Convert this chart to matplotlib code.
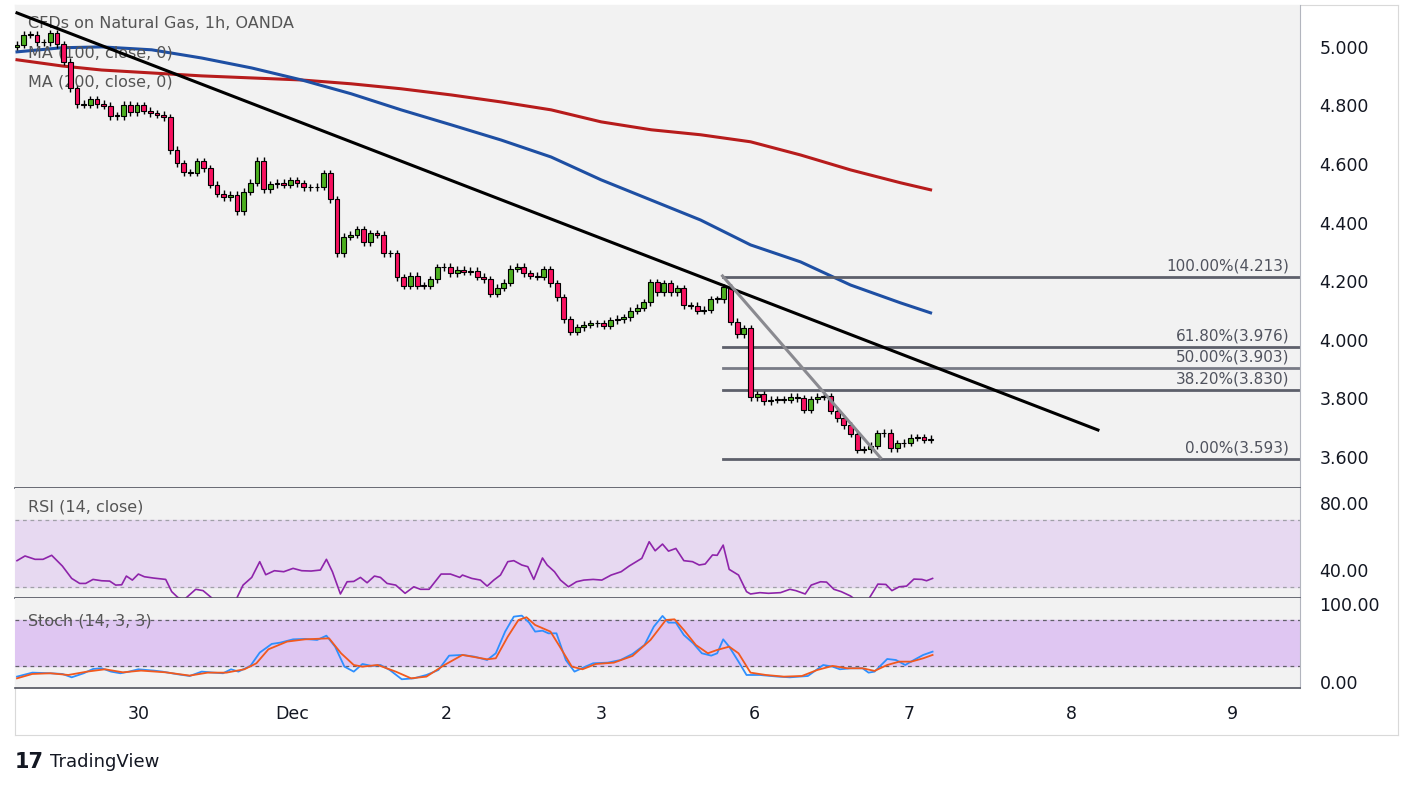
import matplotlib.pyplot as plt
import numpy as np

# hourly closes (one per candle)
closes = [5.007, 5.041, 5.041, 5.015, 5.015, 5.047, 5.009, 4.950, 4.859, 4.805, 4.802, 4.821,
          4.805, 4.799, 4.764, 4.764, 4.802, 4.777, 4.801, 4.782, 4.774, 4.768, 4.760, 4.648,
          4.603, 4.572, 4.571, 4.609, 4.586, 4.529, 4.498, 4.487, 4.495, 4.438, 4.506, 4.537,
          4.612, 4.514, 4.531, 4.537, 4.529, 4.544, 4.535, 4.521, 4.521, 4.523, 4.569, 4.480,
          4.296, 4.352, 4.358, 4.378, 4.333, 4.364, 4.358, 4.296, 4.296, 4.214, 4.184, 4.218,
          4.184, 4.184, 4.207, 4.247, 4.250, 4.227, 4.239,
          4.233, 4.236, 4.216, 4.207, 4.157, 4.178, 4.195, 4.243, 4.250, 4.227, 4.218, 4.216,
          4.241, 4.193, 4.145, 4.070, 4.027, 4.043, 4.051, 4.057, 4.057, 4.048, 4.066, 4.071,
          4.077, 4.099, 4.110, 4.128, 4.197, 4.162, 4.193, 4.162, 4.176, 4.118, 4.116, 4.099,
          4.102, 4.139, 4.139, 4.180, 4.062, 4.019, 4.040, 3.804, 3.814, 3.791, 3.795, 3.797,
          3.795, 3.806, 3.801, 3.761, 3.797, 3.806, 3.808, 3.758, 3.732, 3.708, 3.679, 3.624,
          3.626, 3.639, 3.681, 3.683, 3.630, 3.647, 3.649, 3.666, 3.667, 3.658, 3.662]
first_open = 5.000
wick = 0.012

ma_x = [0, 6.7, 12.7, 20.2, 27.7, 35.2, 42.7, 50.1, 57.6, 65.1, 72.6, 80.1, 87.6, 95.1,
        102.5, 110.0, 117.5, 125.0, 132.5, 137.0]
ma100_y = [4.983, 4.997, 5.000, 4.990, 4.962, 4.928, 4.887, 4.840, 4.785, 4.734, 4.682, 4.624,
           4.546, 4.477, 4.409, 4.324, 4.266, 4.187, 4.126, 4.092]
ma200_y = [4.956, 4.935, 4.921, 4.911, 4.901, 4.894, 4.887, 4.874, 4.857, 4.836, 4.812, 4.785,
           4.744, 4.717, 4.700, 4.676, 4.631, 4.580, 4.536, 4.512]

trend_x = [0, 162.1]
trend_y = [5.116, 3.692]
grey_x = [105.8, 129.5]
grey_y = [4.218, 3.597]

fib_start = 105.8
fib_levels = [4.213, 3.976, 3.903, 3.830, 3.593]
fib_labels = ["100.00%(4.213)", "61.80%(3.976)", "50.00%(3.903)", "38.20%(3.830)", "0.00%(3.593)"]
fib_colors = ["#5d606b", "#5d606b", "#787b86", "#5d606b", "#5d606b"]

rsi_x = [0, 1.2, 2.7, 3.9, 5.2, 6.8, 8.2, 9.4, 10.3, 11.4, 12.7, 13.9, 14.8, 15.7, 16.4, 17.3,
         18.2, 19.1, 20.5, 22.3, 23.2, 24.1, 25.0, 26.8, 27.9, 29.1, 30.0, 32.7, 33.9, 35.2,
         36.4, 37.3, 38.6, 40.0, 41.4, 42.7, 44.1, 45.5, 46.4, 47.3, 48.5, 49.5, 50.5, 51.5,
         52.5, 53.6, 54.5, 55.5, 56.8, 58.2, 59.5, 60.5, 61.8, 63.6, 65.0, 66.4, 66.8, 68.2,
         69.5, 70.5, 71.5, 72.5, 73.6, 74.5, 75.7, 76.6, 77.5, 78.8, 79.5, 80.6, 81.5, 82.7,
         83.9, 85.0, 86.4, 87.7, 89.1, 90.6, 91.8, 93.7, 94.8, 95.7, 96.8, 97.7, 98.8, 100.0,
         101.3, 102.3, 103.2, 104.3, 105.0, 105.9, 106.8, 108.2, 109.4, 110.0, 111.4, 112.7,
         114.5, 115.9, 116.8, 118.2, 119.1, 120.5, 121.4, 122.5, 123.6, 125.0, 125.9, 127.7,
         129.1, 130.3, 131.2, 132.3, 133.4, 134.5, 135.7, 136.4, 137.3]
rsi_v = [45.6, 48.4, 46.4, 46.4, 48.8, 42.4, 35.0, 32.0, 32.0, 34.4, 33.6, 33.4, 31.0, 31.2, 36.4, 34.0,
         37.6, 36.0, 35.2, 34.4, 27.1, 23.7, 22.1, 28.5, 27.7, 23.7, 20.1, 21.1, 31.0, 35.6,
         45.0, 37.2, 39.6, 39.0, 41.0, 39.6, 39.4, 40.0, 46.4, 39.0, 25.7, 33.0, 33.2, 35.6,
         32.4, 36.4, 35.6, 32.0, 31.0, 26.1, 30.0, 28.5, 28.5, 37.6, 37.6, 35.6, 37.0, 35.0,
         34.0, 30.4, 34.0, 37.0, 45.0, 45.6, 43.0, 42.0, 34.4, 47.2, 43.0, 39.0, 34.0, 30.0,
         33.0, 34.0, 34.4, 34.0, 37.0, 39.0, 42.4, 47.0, 56.9, 51.5, 55.5, 51.3, 52.9, 45.6,
         45.0, 43.0, 43.6, 49.0, 48.8, 54.9, 40.4, 37.0, 27.1, 25.7, 26.5, 26.1,
         26.5, 28.5, 27.7, 25.7, 31.0, 33.0, 32.8, 28.5, 27.1, 24.5, 21.7, 22.5,
         31.6, 31.4, 27.7, 30.0, 30.4, 34.6, 34.4, 33.6, 35.0]

k_x = [0, 2.3, 5.0, 6.8, 8.2, 10.0, 11.4, 12.7, 14.1, 15.5, 16.8, 18.2, 20.5, 21.8, 24.1, 25.9,
       27.7, 29.5, 30.9, 32.1, 33.2, 35.0, 36.4, 38.2, 39.5, 41.4, 43.2, 45.0, 46.4, 47.7, 49.1,
       50.5, 51.8, 53.2, 54.5, 55.9, 57.7, 59.5, 61.4, 63.2, 64.8, 66.8, 68.6, 70.5, 71.8, 73.2,
       74.5, 75.7, 76.8, 77.7, 78.8, 79.7, 80.9, 82.3, 83.6, 85.0, 86.4, 88.6, 90.5, 92.3, 94.1,
       95.5, 96.8, 97.7, 98.8, 100.0, 101.4, 102.7, 104.1, 105.0, 105.9, 106.8, 108.2, 109.4,
       111.4, 114.1, 115.9, 118.6, 120.9, 122.3, 123.4, 125.0, 126.8, 127.7, 128.6, 130.5,
       131.8, 133.2, 134.5, 135.9, 137.3]
k_v = [6.9, 12.0, 11.2, 10.3, 6.0, 11.2, 16.7, 17.6, 13.3, 11.2, 13.3, 16.3, 14.6, 13.3, 9.9, 7.7,
       13.3, 12.0, 11.2, 16.3, 13.3, 20.6, 37.7, 48.8, 50.5, 54.7, 55.2, 53.9, 59.4, 45.3, 19.7,
       13.3, 23.1, 20.6, 21.8, 15.4, 3.5, 4.7, 9.0, 15.4, 33.8, 34.7, 32.5, 28.2, 36.8, 64.6,
       83.8, 85.1, 76.1, 64.6, 65.8, 62.4, 62.4, 28.2, 13.3, 18.8, 24.0, 24.8, 28.2, 35.9, 47.5,
       71.0, 84.7, 76.1, 76.1, 60.3, 49.6, 36.8, 33.8, 36.8, 54.7, 45.3, 26.1, 9.0,
       9.0, 6.9, 6.0, 7.7, 21.8, 19.7, 16.3, 17.6, 17.6, 12.0, 13.3, 29.5,
       28.2, 21.8, 28.2, 34.7, 38.9]
d_x = [0, 2.3, 5.0, 7.7, 10.5, 13.2, 15.9, 18.6, 22.3, 25.9, 28.6, 31.4, 34.1, 35.9, 37.7, 40.5,
       43.2, 46.8, 48.6, 50.5, 51.8, 54.1, 56.8, 59.1, 61.4, 64.1, 66.8, 70.5, 71.8, 73.6, 75.2,
       76.4, 77.7, 80.0, 81.4, 83.2, 84.8, 86.8, 89.5, 92.3, 95.0, 97.3, 98.6, 100.0, 101.8,
       103.6, 105.0, 106.8, 108.2, 110.0, 112.3, 115.0, 117.7, 120.0, 122.3, 124.5, 126.8,
       128.6, 130.5, 132.3, 134.1, 135.9, 137.3]
d_v = [4.7, 10.3, 11.2, 9.0, 13.3, 16.3, 12.4, 14.6, 12.4, 8.2, 12.0, 12.0, 16.3, 24.0, 41.9, 51.8,
       54.7, 56.0, 36.8, 21.8, 19.7, 21.8, 13.3, 4.7, 6.9, 21.8, 34.7, 29.1, 30.4, 58.2, 79.5,
       83.0, 73.1, 64.6, 45.3, 19.7, 16.3, 23.1, 24.8, 33.4, 53.9, 79.5, 80.4, 66.7, 47.5,
       36.8, 41.1, 45.3, 36.8, 12.0, 9.0, 6.9, 7.7, 15.4, 20.6, 17.6, 17.6,
       14.2, 21.8, 26.1, 26.1, 30.4, 34.7]

date_pos = [18.2, 41.3, 64.4, 87.6, 110.6, 133.8, 158.1, 182.2]
date_lab = ["30", "Dec", "2", "3", "6", "7", "8", "9"]

BG = "#f2f2f2"
UP, DN = "#4caf1f", "#f7115f"
TXT = "#131722"
XLIM = (-0.3, 192.4)

fig = plt.figure(figsize=(14.13, 7.88), dpi=100)
W, H = 1413, 788
def box(x0, y0, x1, y1):
    return [x0 / W, 1 - y1 / H, (x1 - x0) / W, (y1 - y0) / H]

# outer frame incl. bottom date strip
frame = fig.add_axes(box(15, 5, 1398, 735))
frame.set_xticks([]); frame.set_yticks([])
for s in frame.spines.values():
    s.set_color("#d9d9d9")
frame.set_zorder(-5)

ax = fig.add_axes(box(15, 5, 1300, 488))
rsi = fig.add_axes(box(15, 488, 1300, 598), sharex=ax)
sto = fig.add_axes(box(15, 598, 1300, 688), sharex=ax)

for a in (ax, rsi, sto):
    a.set_facecolor(BG)
    a.yaxis.tick_right()
    a.tick_params(axis="y", length=0, labelsize=12.5, labelcolor=TXT, pad=14)
    a.tick_params(axis="x", length=0, labelbottom=False)
    for s in ("top", "left"):
        a.spines[s].set_visible(False)
    a.spines["right"].set_color("#b2b5be")
    a.spines["bottom"].set_color("#50535e")
    a.spines["bottom"].set_linewidth(1.2)
ax.set_xlim(*XLIM)

# candles
opens = [first_open] + closes[:-1]
idx = np.arange(len(closes))
for i, o, c in zip(idx, opens, closes):
    col = UP if c >= o else DN
    lo, hi = min(o, c), max(o, c)
    ax.vlines(i, lo - wick, hi + wick, color="black", lw=1, zorder=3)
    ax.bar(i, max(hi - lo, 0.002), bottom=lo, width=0.72, color=col,
           edgecolor="black", linewidth=0.8, zorder=4)

ax.plot(ma_x, ma200_y, color="#b71c1c", lw=2.2, zorder=2)
ax.plot(ma_x, ma100_y, color="#1e4fa3", lw=2.2, zorder=2)
ax.plot(trend_x, trend_y, color="black", lw=2.2, zorder=5)
ax.plot(grey_x, grey_y, color="#8a8a90", lw=2.2, zorder=5)
for lv, lb, cl in zip(fib_levels, fib_labels, fib_colors):
    ax.plot([fib_start, XLIM[1]], [lv, lv], color=cl, lw=2, zorder=2)
    ax.text(190.8, lv + 0.012, lb, ha="right", va="bottom", fontsize=11, color="#50535e")

ax.set_ylim(3.494, 5.143)
ax.set_yticks([3.6, 3.8, 4.0, 4.2, 4.4, 4.6, 4.8, 5.0])
ax.set_yticklabels(["%.3f" % v for v in [3.6, 3.8, 4.0, 4.2, 4.4, 4.6, 4.8, 5.0]])
ax.text(0.01, 0.977, "CFDs on Natural Gas, 1h, OANDA", transform=ax.transAxes,
        fontsize=11.5, color="#555555", va="top")
ax.text(0.01, 0.917, "MA (100, close, 0)", transform=ax.transAxes,
        fontsize=11.5, color="#555555", va="top")
ax.text(0.01, 0.857, "MA (200, close, 0)", transform=ax.transAxes,
        fontsize=11.5, color="#555555", va="top")

# RSI
rsi.axhspan(30, 70, color="#e7d9f1", zorder=0)
for lv in (30, 70):
    rsi.axhline(lv, color="#a0a0a8", lw=0.9, ls=(0, (3, 3)))
rsi.plot(rsi_x, rsi_v, color="#8e24aa", lw=1.2)
rsi.set_ylim(23.3, 89)
rsi.set_yticks([40, 80])
rsi.set_yticklabels(["40.00", "80.00"])
rsi.text(0.01, 0.9, "RSI (14, close)", transform=rsi.transAxes, fontsize=11.5,
         color="#555555", va="top")

# Stoch
sto.axhspan(20, 80, color="#dfc6f2", zorder=0)
for lv in (20, 80):
    sto.axhline(lv, color="#606068", lw=0.9, ls=(0, (3, 3)))
sto.plot(k_x, k_v, color="#2e8fff", lw=1.3)
sto.plot(d_x, d_v, color="#f2591d", lw=1.3)
sto.set_ylim(-7.7, 107.7)
sto.set_yticks([0, 100])
sto.set_yticklabels(["0.00", "100.00"])
sto.text(0.01, 0.83, "Stoch (14, 3, 3)", transform=sto.transAxes, fontsize=11.5,
         color="#555555", va="top")

sto.set_xticks(date_pos)
sto.set_xticklabels(date_lab)
sto.tick_params(axis="x", labelbottom=True, labelsize=12.5, labelcolor=TXT, pad=12)

fig.text(15 / W, 1 - 762 / H, "17", fontsize=15, fontweight="bold", color=TXT, va="center")
fig.text(50 / W, 1 - 762 / H, "TradingView", fontsize=13, color=TXT, va="center")

fig.savefig("out.png", dpi=100, facecolor="white")
